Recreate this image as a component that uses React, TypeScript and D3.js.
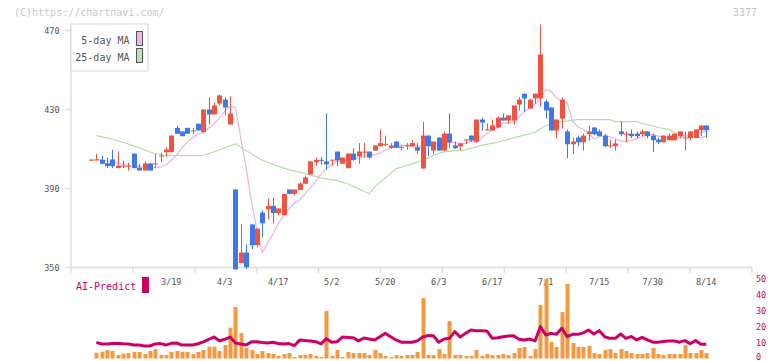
import React, { useEffect, useRef } from 'react';
import * as d3 from 'd3';

// OHLC per trading day (index 0 .. 115)
const opens = [
  404.5, 404.5, 404.5, 402.8, 404.7, 400.3, 401.4, 401.4, 407.7, 400.6,
  399.1, 402.7, 402.5, 406.5, 408.4, 408.4, 420.7, 418.9, 420.7, 419.2,
  422.8, 418.5, 430, 427.5, 433, 435, 422.4, 389.5, 352.2, 357.6,
  371.8, 361.3, 377.8, 379.5, 381.2, 377.5, 376.5, 389.5, 387.3, 389.3,
  392.4, 397.1, 403.3, 404.5, 403.7, 404.3, 408.7, 402.5, 400.3, 407.7,
  406.2, 408.5, 408.7, 409.2, 411.4, 412.4, 410.6, 413.8, 410.9, 411.6,
  411.4, 410.9, 400.1, 416.8, 409.2, 415.8, 409.2, 417.8, 411.8, 411.4,
  414.6, 416.8, 413.6, 424.9, 419.7, 419.4, 420.9, 425.9, 424.4, 424.4,
  432.5, 438, 430.5, 435.6, 435.6, 434, 431, 419.4, 425.4, 418.9,
  412.4, 415.8, 413.4, 417.5, 420.9, 418.9, 416.8, 411.6, 411.4, 418.9,
  417.6, 417.8, 417.8, 417.5, 418.9, 416.8, 414.8, 413.4, 414.4, 414.4,
  416.5, 415.6, 415.5, 415.5, 419.5, 421.9,
];
const highs = [
  405, 407.6, 406.6, 405.5, 409.7, 408.7, 404.2, 403, 407.7, 402.5,
  403.7, 402.7, 407.6, 407.9, 410.9, 416.8, 421.9, 418.9, 420.7, 420.7,
  422.8, 430, 436.2, 433.5, 437.5, 436.2, 436.6, 389.5, 371.8, 361.6,
  371.8, 369.7, 378.9, 384.8, 385.3, 379.9, 387.3, 389.5, 389.5, 393.4,
  396.6, 403.7, 405.8, 406, 428, 404.6, 408.7, 405.7, 407.7, 410.4,
  413, 413, 408.7, 412, 419.9, 416.8, 413, 413.8, 411.8, 413,
  414.5, 413, 423.8, 416.8, 413.8, 415.8, 418.9, 428, 413.8, 412.8,
  414.8, 416.8, 424.9, 425.9, 422.9, 424.9, 426.5, 428, 427, 432,
  436.2, 438, 435.5, 438, 473, 435, 431, 424.9, 436.2, 419.9,
  415.8, 416.8, 417.8, 421.9, 420.9, 419.9, 417.8, 414.8, 414.8, 423.9,
  418.9, 419.9, 418.9, 419.9, 418.9, 417.8, 415.8, 416.8, 417.8, 417.8,
  418.9, 418.9, 418.9, 419.9, 421.9, 421.9,
];
const lows = [
  404.2, 404.3, 402.5, 400.3, 400.3, 400.3, 400.3, 399.1, 400.3, 399.1,
  399.1, 399.1, 400.3, 403.3, 406.2, 408.4, 417.7, 416.5, 417.7, 417.7,
  419.4, 418.5, 422.4, 427.5, 432, 427, 422.4, 349, 352.2, 349.3,
  359.3, 360.3, 365.3, 374.5, 372.4, 376.5, 376.5, 387.3, 386.5, 389.3,
  392.4, 397.1, 401.5, 402, 399.5, 401.6, 401.5, 402.5, 400.3, 404,
  402.5, 405.7, 405, 409.2, 411.4, 411.5, 410, 410.6, 409.5, 409.5,
  411, 407.6, 400.1, 406.4, 407.2, 409.2, 409.2, 410.4, 410, 409.2,
  412.5, 413.5, 413.6, 419.4, 419.4, 419.4, 420.5, 424.4, 422.8, 422.4,
  429.5, 428.8, 430.5, 432.9, 431.5, 425.4, 419.4, 415.3, 420.4, 405.3,
  407.4, 411.4, 409.2, 414.3, 417, 416.5, 411, 410.4, 409.2, 416.5,
  413.3, 415.5, 415.5, 416.5, 415.5, 408.4, 412.4, 413.4, 414.4, 414.4,
  415.5, 409.2, 414.5, 415.5, 416.5, 415.5,
];
const closes = [
  404.6, 404.7, 402.5, 401.3, 401.3, 401.6, 401.6, 401.6, 400.3, 399.1,
  402.7, 399.1, 402.7, 406.7, 409.7, 416.8, 417.7, 416.5, 417.7, 419.4,
  419.4, 430, 427.5, 432, 437.1, 431, 428, 349, 357.6, 350.2,
  361.3, 369.7, 372.4, 381.2, 377.6, 379.9, 387.3, 387.3, 389.5, 392.5,
  395.6, 403.7, 404.5, 404, 402.2, 404.6, 404.2, 405.7, 407.7, 404.5,
  408.7, 408.7, 405.7, 411.8, 413, 412.6, 411.8, 410.6, 411.1, 411.8,
  413, 409.2, 416.8, 411.4, 413.8, 409.2, 417.8, 413.3, 410.4, 412.8,
  414.8, 414.3, 424.9, 423.4, 419.9, 421.9, 425.9, 424.4, 427, 432,
  435, 435.6, 435, 438, 457.8, 429.5, 419.4, 424.9, 435, 412.4,
  413.8, 413.4, 416.8, 418.9, 417.5, 416.5, 411.4, 411.8, 412.8, 417.5,
  417.8, 416.5, 416.5, 418.9, 416.5, 414.4, 413.4, 416.8, 416.8, 417.8,
  418.9, 415.8, 418.9, 419.9, 421.9, 419.5,
];

// 25-day moving average, read as [day index, value]
const ma25Points: [number, number][] = [
  [1, 416.8], [3, 415.6], [6, 413.4], [9, 410.6], [12, 407.6], [14, 406.7],
  [21, 406.7], [27, 412.6], [32, 404.2], [37, 399.4], [39, 398.3], [43, 395.4],
  [46, 394], [48, 392.4], [52, 387.3], [53, 390.7], [57, 400], [60, 402.5],
  [62, 404.2], [64, 406.7], [66, 408.7], [70, 409.6], [73, 411.8], [76, 413.4],
  [79, 415.6], [83, 418.5], [85, 421.9], [88, 423.9], [91, 424.9], [97, 424.9],
  [98, 423.9], [102, 423.9], [103, 422.9], [104, 422.4], [106, 420.9],
  [108, 419.9], [109, 418.5], [111, 416.8], [114, 415.8], [115, 416.5],
];

// lower panel, day index 1 .. 115
const predictStart = 1;
const volumeBars = [
  3.6, 4.2, 5.3, 4.7, 2.2, 3.0, 3.4, 4.1, 4.1, 2.8,
  4.7, 5.9, 2.2, 2.2, 4.1, 4.7, 4.1, 4.1, 2.8, 4.1,
  5.3, 7.4, 7.4, 4.7, 8.4, 19.3, 32.2, 15.9, 6.6, 5.3,
  2.8, 4.7, 3.4, 2.8, 1.6, 2.8, 3.4, 0.9, 2.2, 2.2,
  2.8, 1.6, 0.9, 29.7, 1.6, 5.3, 0.9, 4.1, 3.4, 3.4,
  3.4, 2.2, 5.3, 3.4, 1.6, 0.9, 2.2, 1.6, 2.2, 2.2,
  4.1, 37.8, 2.2, 2.2, 5.9, 2.8, 23.4, 2.2, 2.2, 1.6,
  1.6, 5.3, 1.6, 2.8, 2.2, 2.2, 2.8, 2.2, 3.4, 6.6,
  7.2, 1.6, 5.9, 33.4, 49.7, 10.3, 7.2, 29.0, 46.6, 9.7,
  7.2, 7.2, 7.8, 3.4, 2.8, 5.3, 5.9, 3.4, 5.9, 4.7,
  3.4, 2.8, 2.8, 3.4, 6.6, 2.8, 2.2, 2.8, 2.8, 2.8,
  8.4, 3.4, 3.4, 5.3, 3.4,
];
const aiPredict = [
  10.1, 9.1, 9.1, 9.4, 9.4, 9.2, 9.1, 8.4, 8.4, 7.8,
  7.8, 9.1, 9.3, 8.4, 9.5, 9.7, 8.4, 8.4, 8.4, 9.2,
  10.4, 12.0, 13.4, 11.0, 12.0, 13.4, 9.7, 9.0, 8.4, 10.4,
  10.4, 10.0, 9.7, 10.2, 9.4, 9.1, 9.3, 8.0, 11.5, 11.2,
  11.0, 10.5, 9.1, 12.4, 10.2, 10.5, 13.4, 13.2, 13.0, 11.0,
  12.8, 12.2, 11.6, 13.6, 15.7, 13.6, 11.6, 10.2, 10.2, 10.2,
  11.0, 13.4, 14.3, 14.2, 10.2, 12.2, 12.6, 16.8, 13.4, 15.7,
  17.8, 17.4, 17.3, 17.2, 12.6, 13.0, 13.6, 14.0, 14.2, 12.0,
  11.6, 12.2, 11.0, 19.9, 14.7, 15.7, 15.1, 18.9, 13.6, 15.1,
  15.1, 16.0, 17.8, 15.3, 17.4, 13.6, 12.6, 12.6, 15.3, 12.6,
  13.8, 11.6, 13.2, 11.6, 10.2, 10.2, 10.6, 11.0, 11.0, 10.2,
  11.2, 9.3, 11.2, 8.9, 8.9,
];

const tickIndex = [15, 25, 35, 45, 55, 65, 75, 85, 95, 105, 115];
const tickLabels = ['3/19', '4/3', '4/17', '5/2', '5/20', '6/3', '6/17', '7/1', '7/15', '7/30', '8/14'];
const priceTicks = [350, 390, 430, 470];
const predictTicks = [0, 10, 20, 30, 40, 50];

const RED = '#f25242';
const BLUE = '#3f78e8';
const CRIMSON = '#cc0066';
const FONT = '"DejaVu Sans Mono", monospace';

const App: React.FC = () => {
  const svgRef = useRef<SVGSVGElement>(null);

  useEffect(() => {
    document.body.style.margin = '0';
    if (!svgRef.current) return;

    const width = 772;
    const height = 361;
    const svg = d3.select(svgRef.current).attr('width', width).attr('height', height);
    svg.selectAll('*').remove();

    const x = d3.scaleLinear().domain([0, 115]).range([91, 706.25]);
    const y = d3.scaleLinear().domain([350, 470]).range([267.5, 30.5]);
    const y2 = d3.scaleLinear().domain([0, 50]).range([358.5, 278.5]);

    // watermark
    svg.append('text').attr('x', 14).attr('y', 15.5).attr('font-family', FONT)
      .attr('font-size', 10).attr('fill', '#c8c8c8').text('(C)https://chartnavi.com/');
    svg.append('text').attr('x', 757).attr('y', 15.5).attr('text-anchor', 'end')
      .attr('font-family', FONT).attr('font-size', 10).attr('fill', '#c0c0c0').text('3377');

    // axes
    const axisColor = '#dddddd';
    svg.append('line').attr('x1', 71).attr('x2', 71).attr('y1', 24).attr('y2', 268)
      .attr('stroke', axisColor).attr('stroke-width', 1.5);
    svg.append('line').attr('x1', 71).attr('x2', 752).attr('y1', 267.5).attr('y2', 267.5)
      .attr('stroke', axisColor).attr('stroke-width', 1.5);
    d3.range(12).forEach((k) => {
      const gx = 71 + k * 61.9;
      svg.append('line').attr('x1', gx).attr('x2', gx).attr('y1', 267.5).attr('y2', 273)
        .attr('stroke', axisColor).attr('stroke-width', 1.5);
    });
    priceTicks.forEach((p) => {
      svg.append('line').attr('x1', 65).attr('x2', 71).attr('y1', y(p)).attr('y2', y(p))
        .attr('stroke', axisColor).attr('stroke-width', 1.5);
      svg.append('text').attr('x', 59.5).attr('y', y(p) + 3).attr('text-anchor', 'end')
        .attr('font-family', FONT).attr('font-size', 8.5).attr('fill', '#555').text(p);
    });
    tickIndex.forEach((ti, k) => {
      svg.append('text').attr('x', x(ti)).attr('y', 285).attr('text-anchor', 'middle')
        .attr('font-family', FONT).attr('font-size', 8.5).attr('fill', '#555').text(tickLabels[k]);
    });

    // moving averages
    const ma5 = d3.range(1, closes.length).map((i) => {
      const w = closes.slice(Math.max(0, i - 5), i);
      return [i, d3.mean(w) as number] as [number, number];
    });
    const line = d3.line<[number, number]>().x((d) => x(d[0])).y((d) => y(d[1]));
    svg.append('path').attr('d', line(ma25Points)).attr('fill', 'none')
      .attr('stroke', '#b6dca6').attr('stroke-width', 1.2);
    svg.append('path').attr('d', line(ma5)).attr('fill', 'none')
      .attr('stroke', '#e6b4e6').attr('stroke-width', 1.2);

    // candles
    const candles = svg.append('g');
    closes.forEach((c, i) => {
      const o = opens[i];
      const col = c >= o ? RED : BLUE;
      const cx = Math.round(x(i)) + 0.5;
      candles.append('line').attr('x1', cx).attr('x2', cx).attr('y1', y(highs[i])).attr('y2', y(lows[i]))
        .attr('stroke', col).attr('stroke-width', 1);
      const top = y(Math.max(o, c));
      const h = Math.max(1, Math.abs(y(o) - y(c)));
      candles.append('rect').attr('x', cx - 2.5).attr('y', top).attr('width', 5).attr('height', h)
        .attr('fill', col);
    });

    // legend
    const lg = svg.append('g');
    lg.append('rect').attr('x', 71).attr('y', 24).attr('width', 77).attr('height', 47)
      .attr('fill', '#fff').attr('stroke', axisColor).attr('stroke-width', 1.2);
    [['5-day MA', '#ecb8ec'], ['25-day MA', '#bfe0b0']].forEach(([label, col], k) => {
      lg.append('text').attr('x', 129.5).attr('y', 43.5 + k * 17).attr('text-anchor', 'end')
        .attr('font-family', FONT).attr('font-size', 10).attr('fill', '#555').text(label);
      lg.append('rect').attr('x', 136.5).attr('y', 31.5 + k * 17).attr('width', 6).attr('height', 14)
        .attr('fill', col).attr('stroke', '#555').attr('stroke-width', 1);
    });

    // lower panel
    svg.append('text').attr('x', 76).attr('y', 289.5).attr('font-family', FONT)
      .attr('font-size', 10).attr('fill', CRIMSON).text('AI-Predict');
    svg.append('rect').attr('x', 142).attr('y', 277).attr('width', 7).attr('height', 16).attr('fill', CRIMSON);
    predictTicks.forEach((t) => {
      svg.append('text').attr('x', 756).attr('y', Math.min(y2(t) + 3, 360)).attr('font-family', FONT)
        .attr('font-size', 8.5).attr('fill', CRIMSON).text(t);
    });

    svg.append('g').selectAll('rect').data(volumeBars).enter().append('rect')
      .attr('x', (_d, k) => Math.round(x(k + predictStart)) - 1.5)
      .attr('y', (d) => y2(d))
      .attr('width', 4)
      .attr('height', (d) => y2(0) - y2(d))
      .attr('fill', '#f39a41');

    const predLine = d3.line<number>().x((_d, k) => x(k + predictStart)).y((d) => y2(d));
    svg.append('path').attr('d', predLine(aiPredict)).attr('fill', 'none')
      .attr('stroke', CRIMSON).attr('stroke-width', 3).attr('stroke-linejoin', 'round');
  }, []);

  return (
    <div>
      <svg ref={svgRef} style={{ display: 'block' }}></svg>
    </div>
  );
};

export default App;
